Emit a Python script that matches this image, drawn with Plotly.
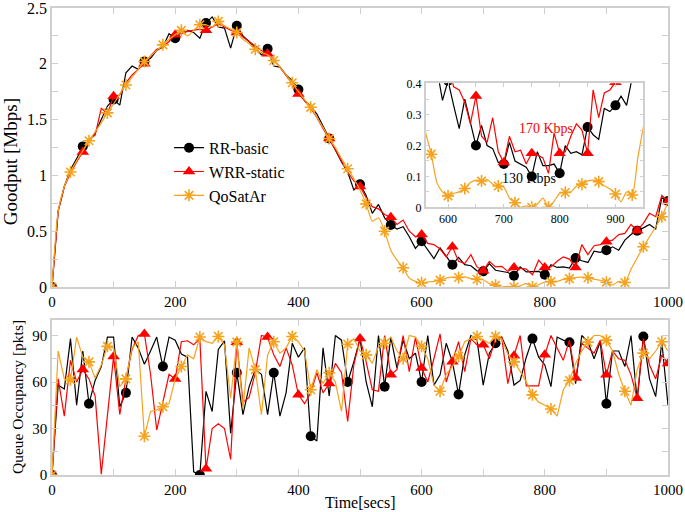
import plotly.graph_objects as go

# sampling times (s)
t = list(range(0, 1001, 10))

# ---------------- Goodput [Mbps] ----------------
rr_goodput = [
    0, 0.68, 0.90, 1.05, 1.15, 1.26, 1.30, 1.38, 1.50, 1.62,
    1.68, 1.63, 1.92, 1.98, 1.95, 2.02, 2.05, 2.12, 2.15, 2.27,
    2.23, 2.29, 2.30, 2.28, 2.23, 2.365, 2.42, 2.33, 2.32, 2.14,
    2.34, 2.25, 2.20, 2.14, 2.08, 2.135, 1.98, 1.97, 1.90, 1.85,
    1.77, 1.67, 1.62, 1.55, 1.44, 1.33, 1.22, 1.12, 1.03, 0.87,
    0.92, 0.82, 0.66, 0.74, 0.62, 0.556, 0.52, 0.54, 0.45, 0.346,
    0.41, 0.33, 0.255, 0.35, 0.27, 0.20, 0.265, 0.20, 0.19, 0.145,
    0.14, 0.21, 0.15, 0.14, 0.13, 0.10, 0.18, 0.135, 0.135, 0.14,
    0.11, 0.20, 0.175, 0.18, 0.17, 0.26, 0.235, 0.22, 0.32, 0.31,
    0.33, 0.36, 0.33, 0.42, 0.47, 0.505, 0.53, 0.56, 0.52, 0.80,
    0.77]

wrr_goodput = [
    0, 0.68, 0.90, 1.02, 1.12, 1.21, 1.32, 1.36, 1.60, 1.55,
    1.71, 1.72, 1.83, 1.90, 1.95, 2.00, 2.07, 2.13, 2.15, 2.20,
    2.26, 2.27, 2.29, 2.30, 2.31, 2.30, 2.33, 2.36, 2.33, 2.30,
    2.28, 2.24, 2.20, 2.16, 2.12, 2.09, 2.04, 1.97, 1.90, 1.82,
    1.73, 1.67, 1.60, 1.52, 1.42, 1.33, 1.23, 1.13, 1.03, 0.95,
    0.90, 0.80, 0.72, 0.70, 0.65, 0.625, 0.56, 0.60, 0.50, 0.45,
    0.47, 0.39, 0.38, 0.34, 0.27, 0.36, 0.23, 0.21, 0.29, 0.18,
    0.145, 0.23, 0.18, 0.185, 0.14, 0.175, 0.17, 0.16, 0.11, 0.24,
    0.175, 0.18, 0.23, 0.27, 0.25, 0.175, 0.38, 0.29, 0.37, 0.38,
    0.405, 0.42, 0.47, 0.48, 0.56, 0.505, 0.57, 0.66, 0.63, 0.82,
    0.765]

qos_goodput = [
    0, 0.68, 0.90, 1.03, 1.13, 1.22, 1.31, 1.39, 1.47, 1.56,
    1.64, 1.73, 1.81, 1.88, 1.95, 2.02, 2.07, 2.12, 2.17, 2.22,
    2.26, 2.30, 2.25, 2.30, 2.35, 2.35, 2.33, 2.38, 2.34, 2.31,
    2.28, 2.22, 2.18, 2.13, 2.10, 2.08, 2.03, 1.97, 1.90, 1.83,
    1.75, 1.68, 1.61, 1.52, 1.43, 1.33, 1.25, 1.15, 1.06, 0.97,
    0.87, 0.745, 0.59, 0.62, 0.50, 0.33, 0.24, 0.172, 0.08, 0.05,
    0.037, 0.045, 0.05, 0.061, 0.08, 0.088, 0.085, 0.09, 0.075, 0.069,
    0.065, 0.03, 0.015, 0.0, 0.005, 0.0, 0.01, 0.03, 0.0, 0.02,
    0.045, 0.048, 0.05, 0.068, 0.075, 0.085, 0.088, 0.083, 0.07, 0.06,
    0.043, 0.018, 0.05, 0.04, 0.16, 0.26, 0.36, 0.45, 0.54, 0.63,
    0.76]

# ---------------- Queue occupancy [pkts] ----------------
rr_queue = [
    0, 58, 55.5, 88, 45, 80, 46, 61, 70, 89,
    89, 44, 53, 89, 82, 71.5, 80, 89, 70, 89,
    87, 78, 76, 2, 0, 54, 41, 81, 86.5, 27,
    66, 39, 57, 68, 65, 39, 66, 38, 53, 85,
    76, 82, 25, 22, 82, 51, 90, 87, 60, 73,
    88, 60, 44, 90, 57, 89, 69, 87, 75, 78.6,
    60, 90, 58, 64.6, 85, 73, 52, 77.5, 90, 87,
    58, 78.6, 85, 89, 80, 58, 61, 76, 88, 76,
    71, 57, 89, 87, 85.7, 59, 90, 86, 75, 86,
    46, 80, 80, 70, 90, 48, 89.4, 62, 50.6, 86,
    45]

wrr_queue = [
    0, 62, 38, 74, 60, 68, 62, 51, 0.5, 39,
    76.5, 39, 62, 81, 90, 91, 65, 29, 47, 65,
    62, 86, 86.6, 84, 88, 4, 30, 33, 30, 10,
    85.7, 47, 50, 66, 90, 89, 77.5, 70, 82, 71,
    51.7, 46, 53, 66, 53, 59, 72, 66, 34.5, 71,
    88, 73, 55, 54, 90, 64.6, 68, 90, 66.7, 88.7,
    69, 60, 75, 91, 60, 73, 86, 66.7, 88, 84,
    84, 75, 88, 89, 59, 77, 90, 57.5, 57.5, 57.5,
    77.5, 90, 82, 74, 87, 62.5, 85, 82, 78.6, 87,
    64.6, 80, 75, 74, 64.6, 49.5, 88, 71, 62, 77.5,
    72]

qos_queue = [
    0, 80, 62, 61.4, 89, 76, 73, 62.5, 71, 83,
    82, 57, 62, 82, 86, 25, 41, 42, 44, 46,
    62, 70, 77.5, 75, 89, 86, 85, 89.4, 84, 49.5,
    85.7, 43, 82, 68, 39, 77.5, 86, 78.6, 82, 89.4,
    86, 80, 55, 68, 59, 66, 60, 41, 84.4, 88,
    80, 77.5, 72, 83, 85, 89, 80, 75, 90, 89,
    83, 75, 58, 54, 65, 70, 76.5, 86, 88, 89.4,
    87, 85, 89.4, 88, 78, 73, 67, 60, 51.7, 47,
    45, 42.6, 38, 55, 61, 72, 80, 85.7, 90, 90,
    87, 80, 65, 54, 45, 68, 78.6, 75, 80, 86,
    80]

series_names = ["RR-basic", "WRR-static", "QoSatAr"]
inset_labels = ["170 Kbps", "130 Kbps"]
goodput_ticks = [0, 0.5, 1, 1.5, 2, 2.5]
goodput_ticktext = ["0", "0.5", "1", "1.5", "2", "2.5"]
inset_yticks = [0, 0.1, 0.2, 0.3, 0.4]
inset_ytext = ["0", "0.1", "0.2", "0.3", "0.4"]

BLACK = "#000000"
RED = "#ff0000"
ORANGE = "#f5a31e"
FONT = "Liberation Serif"
GRID = "#cfcfcf"

styles = [
    dict(color=BLACK, symbol="circle", size=10, lw=0),
    dict(color=RED, symbol="triangle-up", size=11, lw=0),
    dict(color=ORANGE, symbol="asterisk-open", size=10, lw=1.6),
]

fig = go.Figure()


def add_series(y, st, step, xa, ya, spline=False):
    fig.add_trace(go.Scatter(
        x=t, y=y, mode="lines", xaxis=xa, yaxis=ya, showlegend=False,
        line=dict(color=st["color"], width=1.2,
                  shape="spline" if spline else "linear", smoothing=0.6),
        hoverinfo="skip"))
    fig.add_trace(go.Scatter(
        x=t[::step], y=y[::step], mode="markers", xaxis=xa, yaxis=ya,
        showlegend=False,
        marker=dict(color=st["color"], symbol=st["symbol"], size=st["size"],
                    line=dict(color=st["color"], width=st["lw"])),
        hoverinfo="skip"))


# top goodput plot (x, y) and inset (x3, y3)
for xa, ya in (("x", "y"), ("x3", "y3")):
    add_series(rr_goodput, styles[0], 5, xa, ya)
    add_series(wrr_goodput, styles[1], 5, xa, ya)
    add_series(qos_goodput, styles[2], 3, xa, ya, spline=True)

# bottom queue plot (x2, y2)
add_series(rr_queue, styles[0], 6, "x2", "y2")
add_series(wrr_queue, styles[1], 5, "x2", "y2")
add_series(qos_queue, styles[2], 3, "x2", "y2")

# legend entries
for name, st in zip(series_names, styles):
    fig.add_trace(go.Scatter(
        x=[None], y=[None], mode="lines+markers", name=name,
        line=dict(color=st["color"], width=1.2),
        marker=dict(color=st["color"], symbol=st["symbol"], size=st["size"],
                    line=dict(color=st["color"], width=st["lw"]))))


def ax(size=15, ticklen=6, **kw):
    d = dict(
        showgrid=False, zeroline=False, showline=True, linecolor=GRID,
        linewidth=1.5, mirror="allticks", ticks="inside", tickcolor=GRID,
        ticklen=ticklen, tickwidth=1.2, automargin=False,
        ticklabeloverflow="allow",
        tickfont=dict(family=FONT, size=size, color="black"),
    )
    d.update(kw)
    return d


fig.update_layout(
    width=685, height=512,
    margin=dict(l=52, r=17, t=8, b=37),
    paper_bgcolor="white", plot_bgcolor="white",
    font=dict(family=FONT, color="black"),
    showlegend=True,
    legend=dict(x=0.19, y=0.737, xanchor="left", yanchor="top",
                bgcolor="rgba(0,0,0,0)", font=dict(family=FONT, size=16),
                tracegroupgap=0),
    xaxis=ax(15, domain=[0, 1], range=[0, 1000], anchor="y", dtick=200,
             minor=dict(dtick=100, ticks="inside", ticklen=6, tickcolor=GRID)),
    yaxis=ax(16, domain=[0.4026, 1], range=[0, 2.5], anchor="x",
             tickmode="array", tickvals=goodput_ticks,
             ticktext=goodput_ticktext,
             minor=dict(dtick=0.25, ticks="inside", ticklen=6, tickcolor=GRID)),
    xaxis2=ax(15, domain=[0, 1], range=[0, 1000], anchor="y2", dtick=200,
              minor=dict(dtick=100, ticks="inside", ticklen=6, tickcolor=GRID)),
    yaxis2=ax(15, domain=[0, 0.3319], range=[0, 100], anchor="x2",
              tick0=0, dtick=30,
              minor=dict(dtick=15, ticks="inside", ticklen=6, tickcolor=GRID)),
    xaxis3=ax(12, 4, domain=[0.6067, 0.960], range=[560, 950], anchor="y3",
              dtick=100,
              minor=dict(dtick=50, ticks="inside", ticklen=4, tickcolor=GRID)),
    yaxis3=ax(12, 4, domain=[0.5732, 0.8388], range=[0, 0.4015], anchor="x3",
              tickmode="array", tickvals=inset_yticks, ticktext=inset_ytext,
              minor=dict(dtick=0.05, ticks="inside", ticklen=4, tickcolor=GRID)),
)

fig.add_annotation(text="Goodput [Mbps]", xref="paper", yref="paper",
                   x=-0.068, y=0.67, textangle=-90, showarrow=False,
                   xanchor="center", yanchor="middle",
                   font=dict(family=FONT, size=19))
fig.add_annotation(text="Queue Occupancy [pkts]", xref="paper", yref="paper",
                   x=-0.056, y=0.166, textangle=-90, showarrow=False,
                   xanchor="center", yanchor="middle",
                   font=dict(family=FONT, size=15.5))
fig.add_annotation(text="Time[secs]", xref="paper", yref="paper",
                   x=0.5, y=-0.058, showarrow=False,
                   xanchor="center", yanchor="middle",
                   font=dict(family=FONT, size=16))
fig.add_annotation(text=inset_labels[0], xref="x3", yref="y3",
                   x=776, y=0.256, showarrow=False,
                   font=dict(family=FONT, size=14, color=RED))
fig.add_annotation(text=inset_labels[1], xref="x3", yref="y3",
                   x=745, y=0.092, showarrow=False,
                   font=dict(family=FONT, size=14, color=BLACK))

fig.write_html("out.html",
               config={"displayModeBar": False},
               post_script="document.body.style.margin='0';"
                           "document.body.style.overflow='hidden';")
